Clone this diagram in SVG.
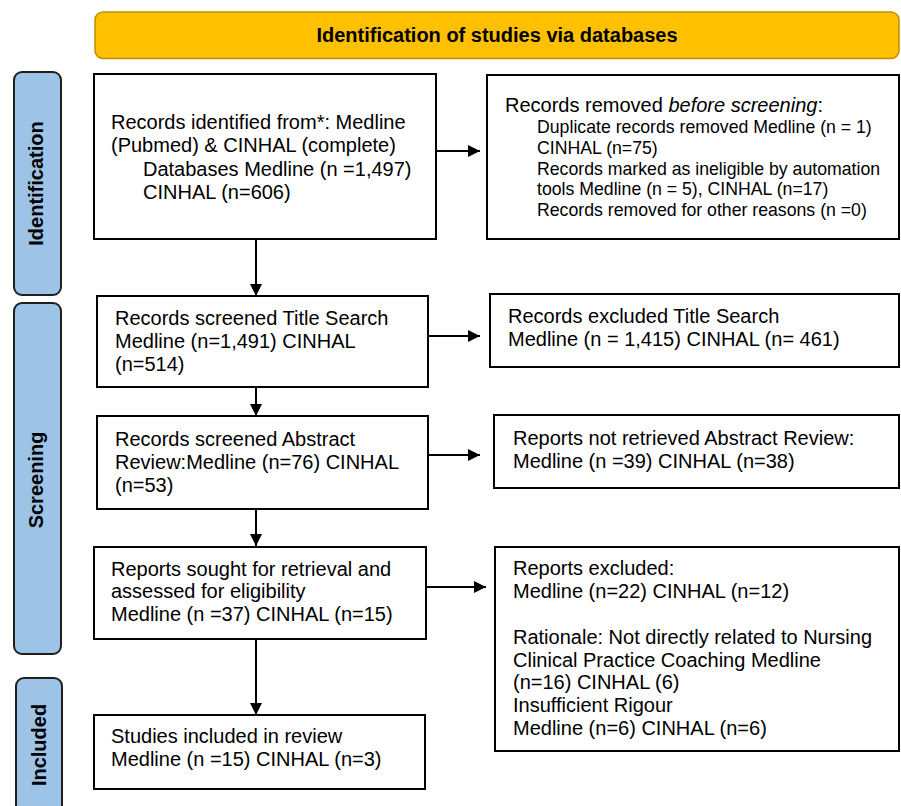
<svg xmlns="http://www.w3.org/2000/svg" width="901" height="806" viewBox="0 0 901 806">
<style>
  .box { fill: #ffffff; stroke: #000000; stroke-width: 2; }
  .side { fill: #9dc3e6; stroke: #1f1f1f; stroke-width: 2; }
  .banner { fill: #ffc000; stroke: #bf9000; stroke-width: 1.5; }
  .t { font-family: "Liberation Sans", Arial, sans-serif; font-size: 20px; fill: #000000; }
  .s { font-family: "Liberation Sans", Arial, sans-serif; font-size: 17.7px; fill: #000000; }
  .b { font-family: "Liberation Sans", Arial, sans-serif; font-size: 20px; font-weight: bold; fill: #000000; }
  .conn { stroke: #000000; stroke-width: 2; fill: none; marker-end: url(#ah); }
</style>
<defs>
  <marker id="ah" viewBox="0 0 12 12" refX="12" refY="6" markerWidth="12" markerHeight="12" markerUnits="userSpaceOnUse" orient="auto">
    <path d="M0,0 L12,6 L0,12 Z" fill="#000000"/>
  </marker>
</defs>

<g id="banner">
  <rect class="banner" x="95" y="12" width="804" height="46.5" rx="8" ry="8"/>
  <text class="b" x="497" y="42" text-anchor="middle">Identification of studies via databases</text>
</g>

<g id="label-identification">
  <rect class="side" x="14" y="72" width="47" height="223" rx="8" ry="8"/>
  <text class="b" transform="translate(43.3,183.5) rotate(-90)" text-anchor="middle">Identification</text>
</g>
<g id="label-screening">
  <rect class="side" x="14" y="303" width="47" height="351" rx="8" ry="8"/>
  <text class="b" transform="translate(43.3,480) rotate(-90)" text-anchor="middle">Screening</text>
</g>
<g id="label-included">
  <rect class="side" x="16" y="678" width="46" height="160" rx="8" ry="8"/>
  <text class="b" transform="translate(45.7,745) rotate(-90)" text-anchor="middle">Included</text>
</g>

<g id="records-identified">
  <rect class="box" x="94" y="74" width="342" height="165"/>
  <text class="t" x="111" y="129">Records identified from*: Medline</text>
  <text class="t" x="111" y="152.3">(Pubmed) &amp; CINHAL (complete)</text>
  <text class="t" x="143" y="175.5">Databases Medline (n =1,497)</text>
  <text class="t" x="143" y="198.6">CINHAL (n=606)</text>
</g>

<g id="records-removed">
  <rect class="box" x="487" y="75" width="412" height="164"/>
  <text class="t" x="505" y="111.7">Records removed <tspan font-style="italic">before screening</tspan>:</text>
  <text class="s" x="537" y="133.2">Duplicate records removed Medline (n = 1)</text>
  <text class="s" x="537" y="153.8">CINHAL (n=75)</text>
  <text class="s" x="537" y="174.6">Records marked as ineligible by automation</text>
  <text class="s" x="537" y="195.2">tools Medline (n = 5), CINHAL (n=17)</text>
  <text class="s" x="537" y="215.9">Records removed for other reasons (n =0)</text>
</g>

<g id="title-screened">
  <rect class="box" x="97" y="296" width="331" height="91"/>
  <text class="t" x="115" y="325">Records screened Title Search</text>
  <text class="t" x="115" y="348">Medline (n=1,491) CINHAL</text>
  <text class="t" x="115" y="371">(n=514)</text>
</g>

<g id="title-excluded">
  <rect class="box" x="490" y="294" width="409" height="73"/>
  <text class="t" x="508" y="323.3">Records excluded Title Search</text>
  <text class="t" x="508" y="346">Medline (n = 1,415) CINHAL (n= 461)</text>
</g>

<g id="abstract-screened">
  <rect class="box" x="97" y="416" width="331" height="93"/>
  <text class="t" x="115" y="446">Records screened Abstract</text>
  <text class="t" x="115" y="469">Review:Medline (n=76) CINHAL</text>
  <text class="t" x="115" y="491.7">(n=53)</text>
</g>

<g id="not-retrieved">
  <rect class="box" x="494" y="415" width="405" height="73"/>
  <text class="t" x="513" y="445">Reports not retrieved Abstract Review:</text>
  <text class="t" x="513" y="467.7">Medline (n =39) CINHAL (n=38)</text>
</g>

<g id="assessed">
  <rect class="box" x="94" y="547" width="332" height="92"/>
  <text class="t" x="111" y="575.7">Reports sought for retrieval and</text>
  <text class="t" x="111" y="598.3">assessed for eligibility</text>
  <text class="t" x="111" y="621">Medline (n =37) CINHAL (n=15)</text>
</g>

<g id="reports-excluded">
  <rect class="box" x="495" y="547" width="404" height="204"/>
  <text class="t" x="513" y="575">Reports excluded:</text>
  <text class="t" x="513" y="598">Medline (n=22) CINHAL (n=12)</text>
  <text class="t" x="513" y="644.3">Rationale: Not directly related to Nursing</text>
  <text class="t" x="513" y="666.8">Clinical Practice Coaching Medline</text>
  <text class="t" x="513" y="689.4">(n=16) CINHAL (6)</text>
  <text class="t" x="513" y="712.4">Insufficient Rigour</text>
  <text class="t" x="513" y="735">Medline (n=6) CINHAL (n=6)</text>
</g>

<g id="included">
  <rect class="box" x="94" y="715" width="331" height="74"/>
  <text class="t" x="111" y="743.3">Studies included in review</text>
  <text class="t" x="111" y="766">Medline (n =15) CINHAL (n=3)</text>
</g>

<g id="connectors">
  <line class="conn" x1="436" y1="151" x2="480" y2="151"/>
  <line class="conn" x1="256" y1="239" x2="256" y2="296"/>
  <line class="conn" x1="428" y1="336" x2="480" y2="336"/>
  <line class="conn" x1="256" y1="387" x2="256" y2="416"/>
  <line class="conn" x1="428" y1="455" x2="480" y2="455"/>
  <line class="conn" x1="256" y1="509" x2="256" y2="546"/>
  <line class="conn" x1="426" y1="587" x2="486" y2="587"/>
  <line class="conn" x1="256" y1="639" x2="256" y2="715"/>
</g>
</svg>
